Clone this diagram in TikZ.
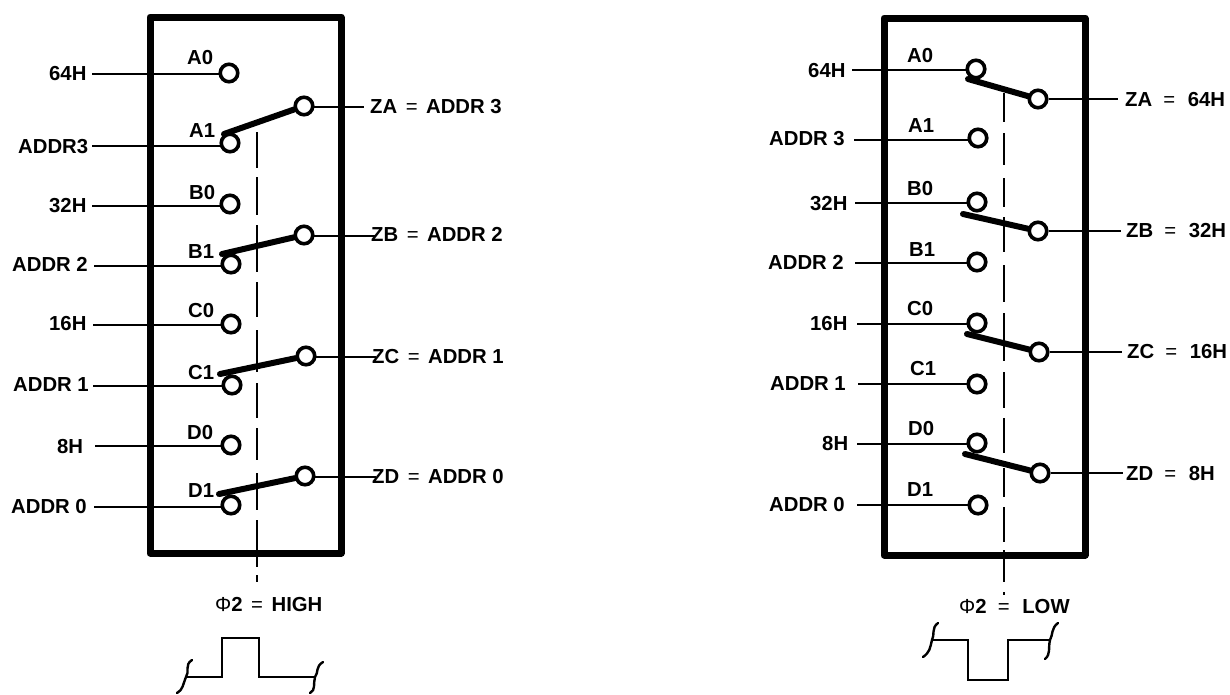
\documentclass[tikz,border=0pt]{standalone}
\usepackage{fontspec}
\usetikzlibrary{backgrounds}
\setmainfont{Liberation Sans}
\newcommand{\eqsign}{\hspace{0.42em}{\mdseries =}\hspace{0.42em}}
\newcommand{\eqsignw}{\hspace{0.55em}{\mdseries =}\hspace{0.62em}}
\tikzset{
  lab/.style={anchor=west,inner sep=0pt,font=\fontsize{20.3}{20}\selectfont\bfseries,text height=14.5pt,text depth=0pt},
  term/.style={circle,draw,fill=white,line width=3.6pt,minimum size=17.5pt,inner sep=0pt},
  wire/.style={line width=2.7pt},
  arm/.style={line width=6pt,line cap=round},
  chip/.style={line width=7pt,line join=round},
  phase/.style={line width=1.6pt},
  wave/.style={line width=2.4pt,line join=miter},
  brk/.style={line width=2.4pt,line cap=round}
}
\begin{document}
\begin{tikzpicture}[x=1pt,y=-1pt]
\useasboundingbox (0,0) rectangle (1230,694);
% ---------- left block
\coordinate (Lnw) at (150,17); \coordinate (Lse) at (341,553);
\begin{scope}[on background layer]
\draw[chip] (Lnw) rectangle (Lse);
\end{scope}
\foreach \s/\e [count=\i] in {132/168,177/215,225/272,282/317,330/372,383/418,428/460,473/510,520/567,575/582}{
  \coordinate (LdS\i) at (257,\s); \coordinate (LdE\i) at (257,\e);
  \draw[phase] (LdS\i) -- (LdE\i);
}
\foreach \n/\x/\y/\fx/\fy in {
  A0/229/73/92/74, A1/230/143/92/146, B0/230/204/92/206, B1/231/264/94/266,
  C0/231/324/93/325, C1/232/385/93/386, D0/231/445/95/446, D1/231/505/94/507}{
  \node[term] (L\n) at (\x,\y) {};
  \coordinate (Lin\n) at (\fx,\fy);
  \begin{scope}[on background layer]
  \draw[wire] (Lin\n) -- (Lin\n -| L\n.center);
  \end{scope}
}
\foreach \n/\x/\y/\ex/\ax/\ay in {
  A/304/106/364/224/134, B/304/235/376/222/254, C/306/356/376/220/374, D/305/476/376/219/494}{
  \node[term] (LZ\n) at (\x,\y) {};
  \coordinate (LOut\n) at (\ex,\y+1);
  \coordinate (LArm\n) at (\ax,\ay);
  \begin{scope}[on background layer]
  \draw[wire] (LOut\n -| LZ\n.center) -- (LOut\n);
  \draw[arm] (LArm\n) -- (LZ\n);
  \end{scope}
}
\foreach \t/\x/\y [count=\i] in {
  64H/49/73, A0/187/57, ADDR3/18/146, A1/189/130, B0/189/192, 32H/49/205, B1/188/251,
  ADDR 2/12/264, C0/188/310, 16H/49/323, ADDR 1/13/384, C1/188/372, D0/187/432,
  8H/57/446, D1/188/490, ADDR 0/11/506}{
  \node[lab] (Ltxt\i) at (\x,\y) {\t};
}
\node[lab] (LzA) at (370,106) {ZA\eqsign ADDR 3};
\node[lab] (LzB) at (371,234) {ZB\eqsign ADDR 2};
\node[lab] (LzC) at (372,356) {ZC\eqsign ADDR 1};
\node[lab] (LzD) at (372,476) {ZD\eqsign ADDR 0};
\node[lab] (Lphi) at (215,604) {{\mdseries Φ}2\eqsign HIGH};
% left waveform
\coordinate (Lw1) at (187,677); \coordinate (Lw2) at (222,677); \coordinate (Lw3) at (222,638);
\coordinate (Lw4) at (259,638); \coordinate (Lw5) at (259,677); \coordinate (Lw6) at (315,677);
\draw[wave] (Lw1) -- (Lw2) -- (Lw3) -- (Lw4) -- (Lw5) -- (Lw6);
\draw[brk] (192,660) .. controls (184,665) and (190,672) .. (186,677) .. controls (183,684) and (183,690) .. (177,693);
\draw[brk] (323,662) .. controls (315,667) and (319,672) .. (315,677) .. controls (313,684) and (316,690) .. (310,693);
% ---------- right block
\coordinate (Rnw) at (884,18); \coordinate (Rse) at (1085,555);
\begin{scope}[on background layer]
\draw[chip] (Rnw) rectangle (Rse);
\end{scope}
\foreach \s/\e [count=\i] in {93/122,133/165,178/207,217/252,265/302,313/361,372/408,418/453,468/497,507/542,550/582,592/595}{
  \coordinate (RdS\i) at (1004,\s); \coordinate (RdE\i) at (1004,\e);
  \draw[phase] (RdS\i) -- (RdE\i);
}
\foreach \n/\x/\y/\fx/\fy in {
  A0/976/69/852/70, A1/978/138/854/140, B0/977/202/855/203, B1/977/262/855/263,
  C0/977/323/857/324, C1/977/384/858/384, D0/977/443/857/444, D1/978/505/857/505}{
  \node[term] (R\n) at (\x,\y) {};
  \coordinate (Rin\n) at (\fx,\fy);
  \begin{scope}[on background layer]
  \draw[wire] (Rin\n) -- (Rin\n -| R\n.center);
  \end{scope}
}
\foreach \n/\x/\y/\ex/\ax/\ay in {
  A/1038/99/1118/968/79, B/1038/231/1121/963/214, C/1039/352/1122/967/334, D/1040/473/1123/965/454}{
  \node[term] (RZ\n) at (\x,\y) {};
  \coordinate (ROut\n) at (\ex,\y);
  \coordinate (RArm\n) at (\ax,\ay);
  \begin{scope}[on background layer]
  \draw[wire] (RZ\n) -- (ROut\n);
  \draw[arm] (RArm\n) -- (RZ\n);
  \end{scope}
}
\foreach \t/\x/\y [count=\i] in {
  64H/808/70, A0/907/55, ADDR 3/769/138, A1/908/125, B0/907/188, 32H/810/203,
  ADDR 2/768/262, B1/909/249, C0/907/308, 16H/810/323, C1/910/368, ADDR 1/770/383,
  D0/908/428, 8H/822/443, D1/907/489, ADDR 0/769/504}{
  \node[lab] (Rtxt\i) at (\x,\y) {\t};
}
\node[lab] (RzA) at (1125,99) {ZA\eqsignw 64H};
\node[lab] (RzB) at (1126,230) {ZB\eqsignw 32H};
\node[lab] (RzC) at (1127,351) {ZC\eqsignw 16H};
\node[lab] (RzD) at (1126,473) {ZD\eqsignw 8H};
\node[lab] (Rphi) at (959,606) {{\mdseries Φ}2\eqsignw LOW};
% right waveform
\coordinate (Rw1) at (932,640); \coordinate (Rw2) at (968,640); \coordinate (Rw3) at (968,680);
\coordinate (Rw4) at (1008,680); \coordinate (Rw5) at (1008,640); \coordinate (Rw6) at (1050,640);
\draw[wave] (Rw1) -- (Rw2) -- (Rw3) -- (Rw4) -- (Rw5) -- (Rw6);
\draw[brk] (938,623) .. controls (931,628) and (935,635) .. (932,640) .. controls (930,648) and (930,652) .. (923,657);
\draw[brk] (1058,623) .. controls (1051,628) and (1053,635) .. (1050,640) .. controls (1048,648) and (1051,654) .. (1045,659);
\end{tikzpicture}
\end{document}
